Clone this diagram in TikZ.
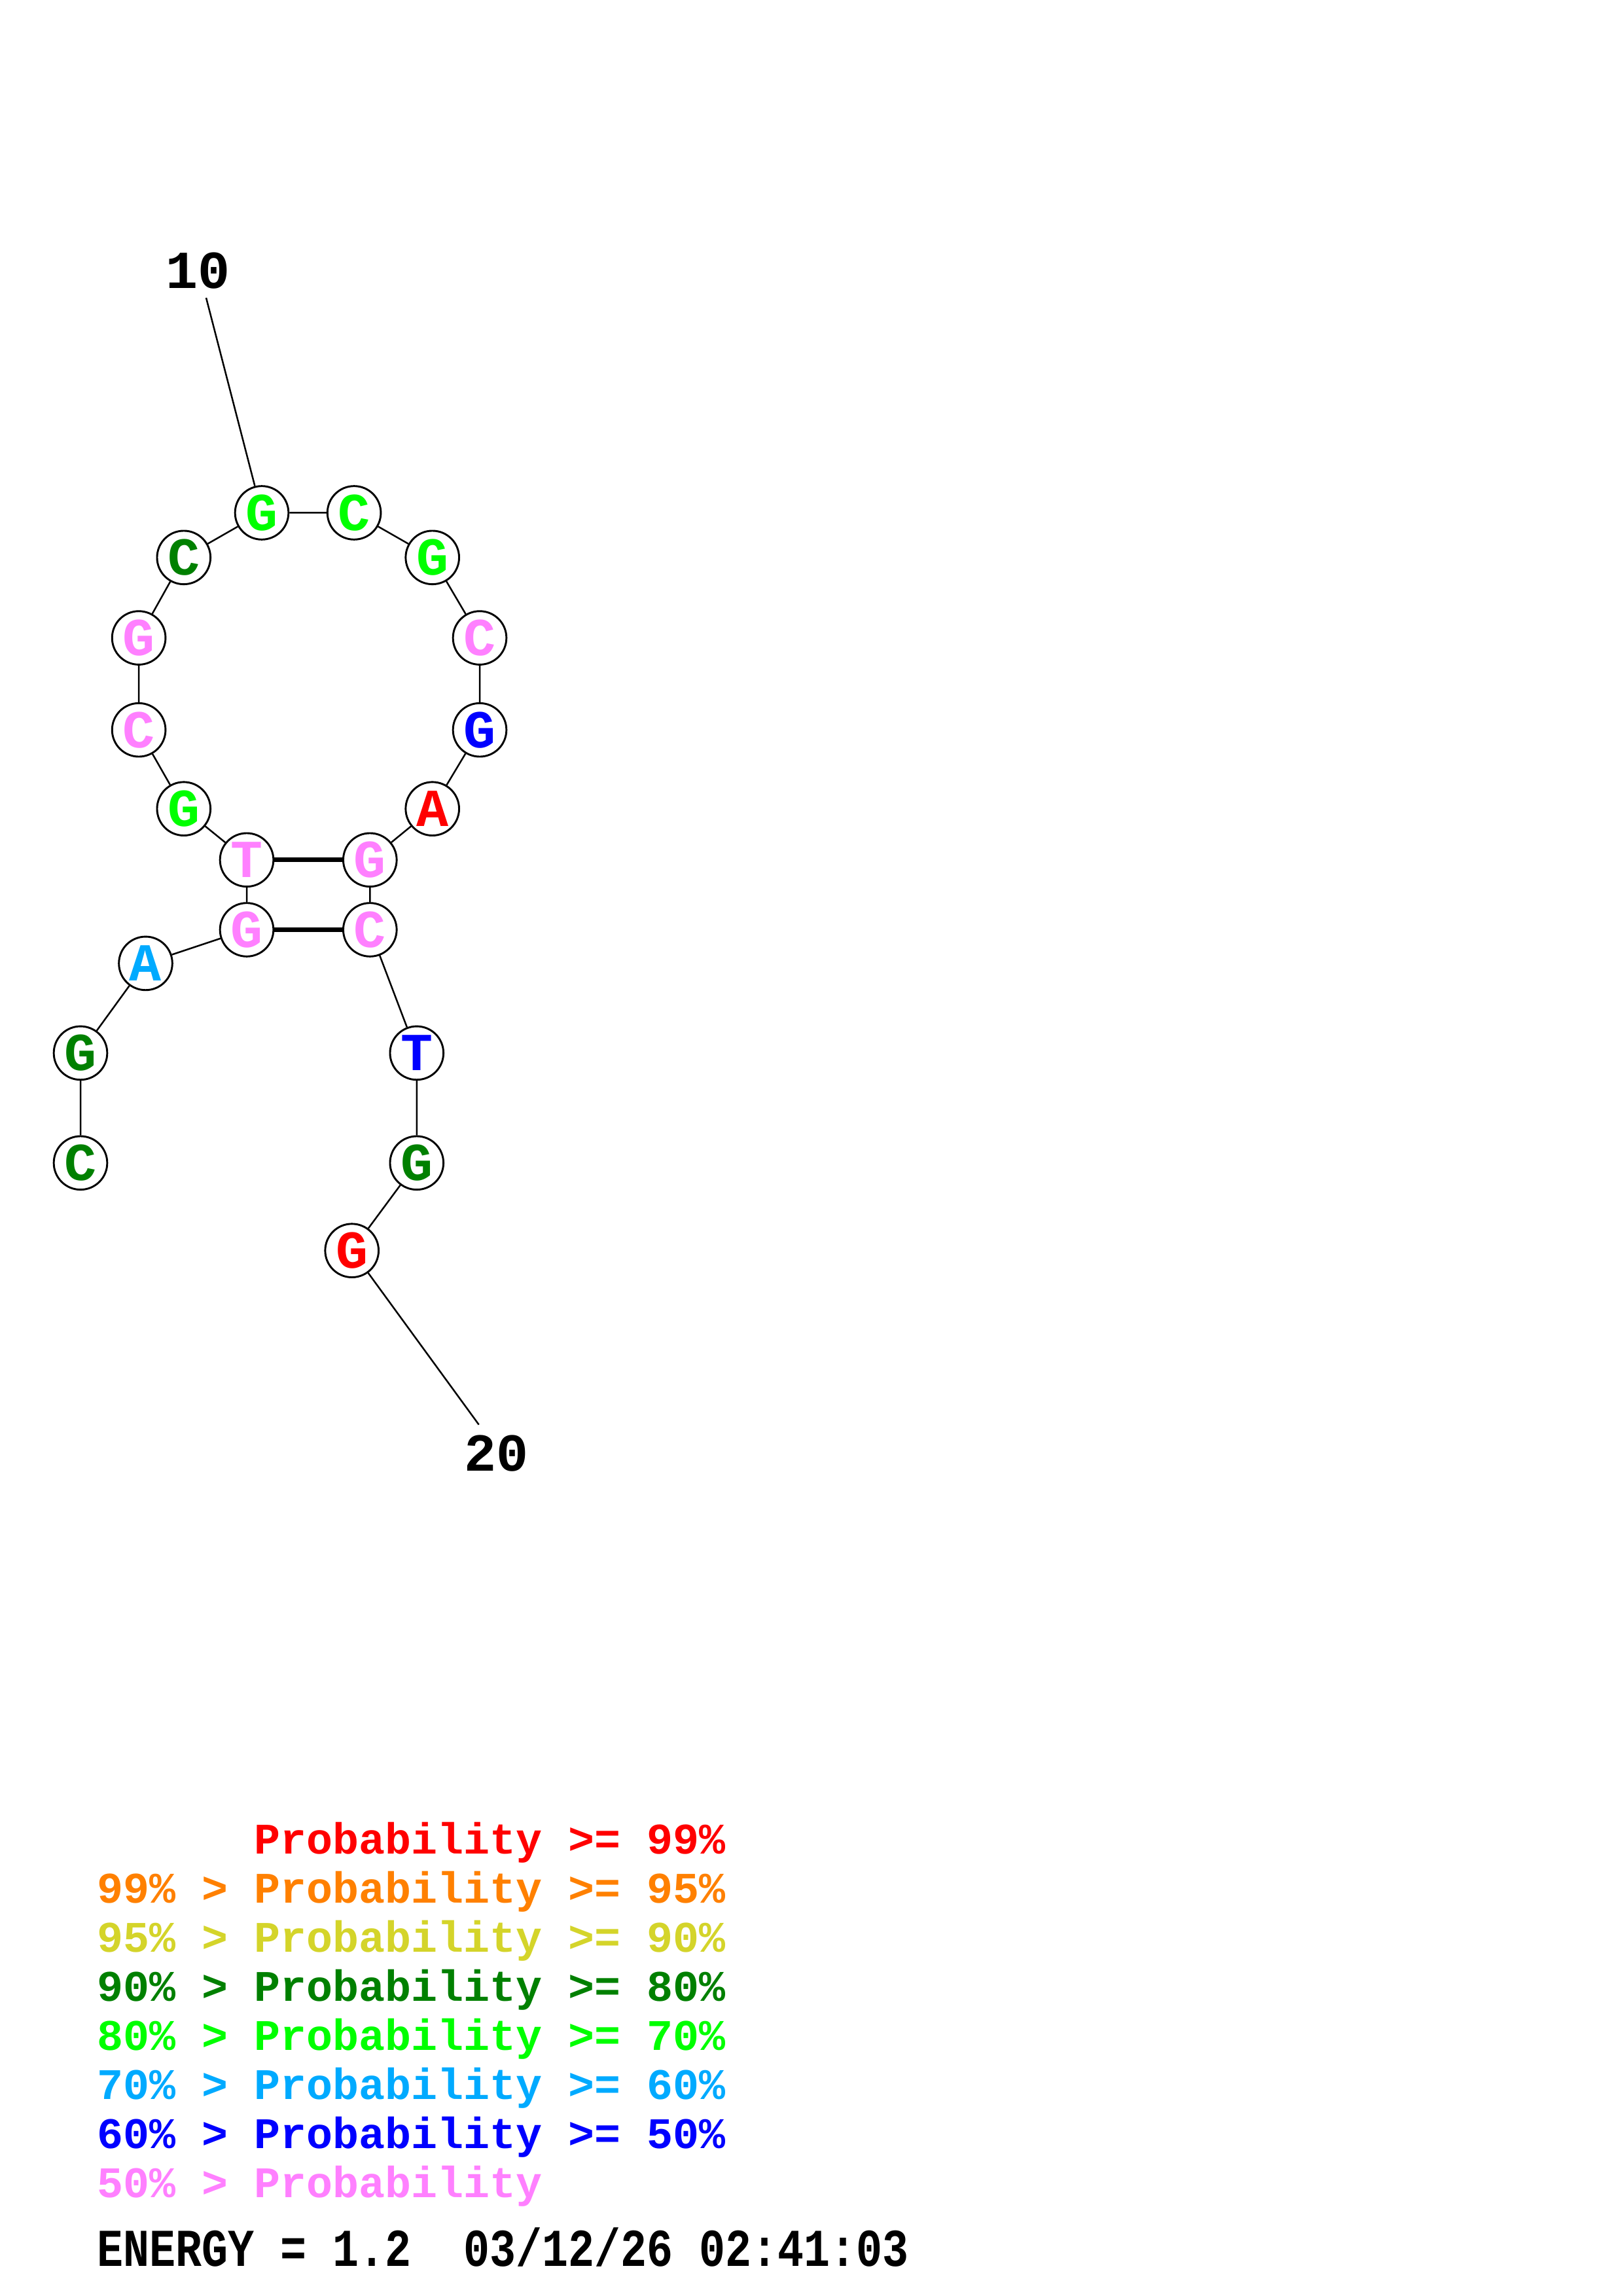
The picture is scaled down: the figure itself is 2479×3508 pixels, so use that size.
\documentclass[tikz,border=0pt]{standalone}
\usepackage{fontspec}
\setmonofont{Liberation Mono}
\usepackage{tikz}
\usetikzlibrary{positioning}
\usepackage{xcolor}
\definecolor{pred}{RGB}{255,0,0}
\definecolor{porange}{RGB}{255,128,0}
\definecolor{pyellow}{RGB}{212,212,42}
\definecolor{pdkgreen}{RGB}{0,128,0}
\definecolor{pgreen}{RGB}{0,255,0}
\definecolor{pcyan}{RGB}{0,170,255}
\definecolor{pblue}{RGB}{0,0,255}
\definecolor{ppink}{RGB}{255,128,255}
\tikzset{
  base/.style={circle, draw=black, fill=white, line width=0.7pt, minimum size=19.6pt, inner sep=0pt,
    font=\ttfamily\bfseries\fontsize{19.6}{20}\selectfont},
  numlabel/.style={anchor=base, inner sep=0pt, font=\ttfamily\bfseries\fontsize{19.6}{20}\selectfont},
  legend/.style={anchor=base west, inner sep=0pt, font=\ttfamily\bfseries\fontsize{16}{17}\selectfont}
}

\begin{document}
\begin{tikzpicture}[x=0.24pt, y=-0.24pt]
				    		\useasboundingbox (0, 0) rectangle (2479, 3508);
				    		% bases
				    		\node[base, text=pdkgreen] (n1) at (123, 1776.8) {C};
				    		\node[base, text=pdkgreen] (n2) at (123, 1608.9) {G};
				    		\node[base, text=pcyan] (n3) at (222.5, 1471.9) {A};
				    		\node[base, text=ppink] (n4) at (377, 1420.5) {G};
				    		\node[base, text=ppink] (n5) at (377, 1313.8) {T};
				    		\node[base, text=pgreen] (n6) at (280.8, 1235.7) {G};
				    		\node[base, text=ppink] (n7) at (212.1, 1115.2) {C};
				    		\node[base, text=ppink] (n8) at (212.1, 974.6) {G};
				    		\node[base, text=pdkgreen] (n9) at (280.8, 851.8) {C};
				    		\node[base, text=pgreen] (n10) at (400, 783.5) {G};
				    		\node[base, text=pgreen] (n11) at (541.1, 783.5) {C};
				    		\node[base, text=pgreen] (n12) at (660.7, 851.8) {G};
				    		\node[base, text=ppink] (n13) at (733, 974.6) {C};
				    		\node[base, text=pblue] (n14) at (733, 1115.2) {G};
				    		\node[base, text=pred] (n15) at (660.7, 1235.7) {A};
				    		\node[base, text=ppink] (n16) at (565.3, 1313.8) {G};
				    		\node[base, text=ppink] (n17) at (565.3, 1420.5) {C};
				    		\node[base, text=pblue] (n18) at (636.8, 1608.9) {T};
				    		\node[base, text=pdkgreen] (n19) at (636.8, 1776.8) {G};
				    		\node[base, text=pred] (n20) at (537.7, 1910.7) {G};
				    		% backbone and pairs
				    		\draw[line width=0.6pt] (n1)--(n2)--(n3)--(n4)--(n5)--(n6)--(n7)--(n8)--(n9)--(n10)--(n11)--(n12)--(n13)--(n14)--(n15)--(n16)--(n17)--(n18)--(n19)--(n20);
				    		\draw[line width=1.7pt] (n5)--(n16);
				    		\draw[line width=1.7pt] (n4)--(n17);
				    		% position numbers
				    		\node[numlabel] (num10) at (302.5, 441) {10};
				    		\coordinate (tick10) at (315, 455);
				    		\draw[line width=0.6pt] (tick10)--(n10);
				    		\node[numlabel] (num20) at (758, 2247) {20};
				    		\coordinate (tick20) at (731.7, 2176.7);
				    		\draw[line width=0.6pt] (n20)--(tick20);
				    		% key
				    		\node[legend, text=pred] (key1) at (148, 2832) {\phantom{99\% >} Probability >= 99\%};
				    		\node[legend, text=porange] (key2) at (148, 2907) {99\% > Probability >= 95\%};
				    		\node[legend, text=pyellow] (key3) at (148, 2982) {95\% > Probability >= 90\%};
				    		\node[legend, text=pdkgreen] (key4) at (148, 3057) {90\% > Probability >= 80\%};
				    		\node[legend, text=pgreen] (key5) at (148, 3132) {80\% > Probability >= 70\%};
				    		\node[legend, text=pcyan] (key6) at (148, 3207) {70\% > Probability >= 60\%};
				    		\node[legend, text=pblue] (key7) at (148, 3282) {60\% > Probability >= 50\%};
				    		\node[legend, text=ppink] (key8) at (148, 3357) {50\% > Probability};
				    		\node[legend] (energy) at (148, 3462) {\scalebox{1}[1.22]{ENERGY = 1.2\ \ 03/12/26 02:41:03}};
				    	\end{tikzpicture}
\end{document}
